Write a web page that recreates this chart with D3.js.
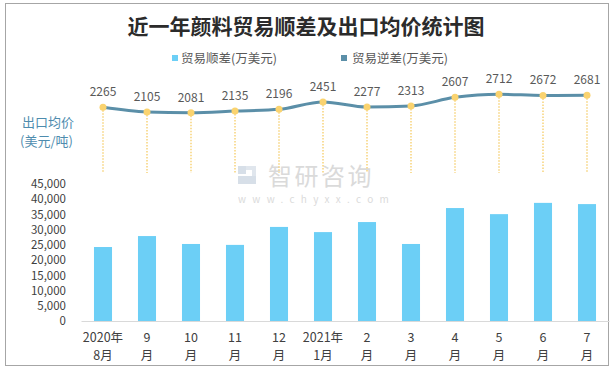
<!DOCTYPE html>
<html><head><meta charset="utf-8">
<script src="https://cdn.jsdelivr.net/npm/d3@7"></script>
<style>body{margin:0;background:#fff}svg{display:block}</style>
</head><body>
<script>
const categories = [["2020年","8月"],["9","月"],["10","月"],["11","月"],["12","月"],["2021年","1月"],["2","月"],["3","月"],["4","月"],["5","月"],["6","月"],["7","月"]];
const surplus = [24300, 27900, 25300, 25000, 30900, 29200, 32500, 25300, 37100, 35100, 38800, 38400];
const price = [2265, 2105, 2081, 2135, 2196, 2451, 2277, 2313, 2607, 2712, 2672, 2681];
const yTicks = [0,5000,10000,15000,20000,25000,30000,35000,40000,45000];
const title = "近一年颜料贸易顺差及出口均价统计图";
const legendNames = ["贸易顺差(万美元)","贸易逆差(万美元)"];

const W=614,H=369;
const font="'Noto Sans CJK SC','Noto Sans',sans-serif";
const svg=d3.select("body").append("svg").attr("width",W).attr("height",H);
svg.append("rect").attr("x",5.5).attr("y",3.5).attr("width",603).attr("height",362).attr("fill","#fff").attr("stroke","#a6a6a6");

svg.append("text").attr("x",306).attr("y",34).attr("text-anchor","middle").attr("font-family",font)
  .attr("font-size",21).attr("font-weight","bold").attr("fill","#2b2b2b").text(title);

// legend
const legColors=["#6ccff6","#5b8fa8"];
[[172,181],[341,352]].forEach((p,i)=>{
  svg.append("rect").attr("x",p[0]).attr("y",55).attr("width",6).attr("height",6).attr("fill",legColors[i]);
  svg.append("text").attr("x",p[1]).attr("y",62.5).attr("font-family",font).attr("font-size",12.5).attr("fill","#595959").text(legendNames[i]);
});

// watermark
const wm=svg.append("g").attr("opacity",0.55);
wm.append("rect").attr("x",238).attr("y",166).attr("width",8).attr("height",8).attr("fill","#b8c6d6");
wm.append("rect").attr("x",246).attr("y",166).attr("width",10).attr("height",4).attr("fill","#c8d3df");
wm.append("rect").attr("x",252).attr("y",170).attr("width",4).attr("height",8).attr("fill","#c8d3df");
wm.append("rect").attr("x",238).attr("y",176).attr("width",18).attr("height",8).attr("fill","#b8c6d6");
wm.append("text").attr("x",268).attr("y",185).attr("font-family",font).attr("font-size",24).attr("fill","#bdbdbd").attr("letter-spacing",2.5).text("智研咨询");
wm.append("text").attr("x",238).attr("y",203).attr("font-family",font).attr("font-size",10).attr("fill","#bdbdbd").attr("letter-spacing",6.3).text("www.chyxx.com");

const x=d3.scaleBand().domain(d3.range(categories.length)).range([81,609]).paddingInner(0.59).paddingOuter(0.295);
const y=d3.scaleLinear().domain([0,45000]).range([321,184]);
const yp=d3.scaleLinear().domain([2000,3000]).range([115,85.9]);

// y axis labels
const ya=svg.append("g").attr("transform","translate(66,0)")
  .call(d3.axisLeft(y).tickValues(yTicks).tickSize(0).tickPadding(0).tickFormat(d3.format(",")));
ya.select(".domain").remove();
ya.selectAll("text").attr("font-family",font).attr("font-size",11.5).attr("fill","#404040");

// bars
svg.selectAll("rect.bar").data(surplus).enter().append("rect").attr("class","bar")
  .attr("x",(d,i)=>x(i)).attr("width",x.bandwidth()).attr("y",d=>y(d)).attr("height",d=>y(0)-y(d)).attr("fill","#6ccff6");

// x axis
const xa=svg.append("g").attr("transform","translate(0,321)").call(d3.axisBottom(x).tickSize(0).tickFormat(()=>""));
xa.select(".domain").attr("stroke","#d9d9d9");
xa.selectAll(".tick text").remove();
categories.forEach((c,i)=>{
  const cx=x(i)+x.bandwidth()/2;
  svg.append("text").attr("x",cx).attr("y",342).attr("text-anchor","middle").attr("font-family",font).attr("font-size",12.5).attr("fill","#404040").text(c[0]);
  svg.append("text").attr("x",cx).attr("y",360).attr("text-anchor","middle").attr("font-family",font).attr("font-size",12.5).attr("fill","#404040").text(c[1]);
});

// price y label
svg.append("text").attr("x",22).attr("y",127).attr("font-family",font).attr("font-size",13).attr("fill","#4e8cae").text("出口均价");
svg.append("text").attr("x",20).attr("y",146).attr("font-family",font).attr("font-size",13).attr("fill","#4e8cae").text("(美元/吨)");

// dotted drops
const cxf=i=>x(i)+x.bandwidth()/2;
svg.selectAll("line.drop").data(price).enter().append("line").attr("class","drop")
  .attr("x1",(d,i)=>cxf(i)).attr("x2",(d,i)=>cxf(i)).attr("y1",d=>yp(d)).attr("y2",173)
  .attr("stroke","#f7d37a").attr("stroke-width",1.5).attr("stroke-dasharray","1.5,1.5");

// line
svg.append("path").datum(price).attr("fill","none").attr("stroke","#5b8fa8").attr("stroke-width",3)
  .attr("d",d3.line().x((d,i)=>cxf(i)).y(d=>yp(d)).curve(d3.curveMonotoneX));
svg.selectAll("circle.pt").data(price).enter().append("circle").attr("class","pt")
  .attr("cx",(d,i)=>cxf(i)).attr("cy",d=>yp(d)).attr("r",3.5).attr("fill","#fad36f");
svg.selectAll("text.pl").data(price).enter().append("text").attr("class","pl")
  .attr("x",(d,i)=>cxf(i)).attr("y",d=>yp(d)-11).attr("text-anchor","middle").attr("font-family",font)
  .attr("font-size",12).attr("fill","#595959").text(d=>d);
</script>
</body></html>
